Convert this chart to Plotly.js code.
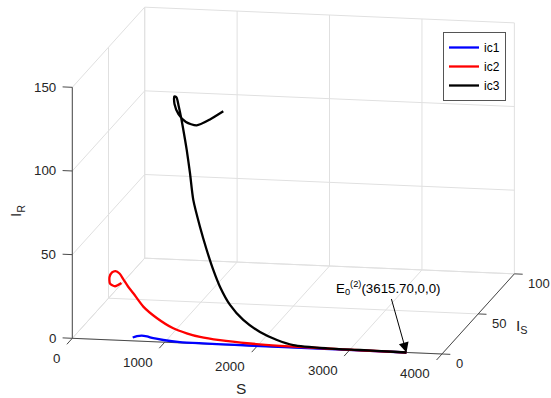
<!DOCTYPE html>
<html>
<head>
<meta charset="utf-8">
<script src="https://cdn.plot.ly/plotly-3.0.1.min.js"></script>
<style>html,body{margin:0;padding:0;background:#fff}#plot{width:551px;height:398px}</style>
</head>
<body>
<div id="plot"></div>
<script>
// ic1 trajectory: S, I_S, I_R
const ic1S  = [622, 664, 712, 772, 845, 964, 1157, 1410, 1700, 2100, 2600, 3100, 3615.7];
const ic1IS = [4, 4.6, 5, 4.6, 4, 2.6, 1.0, 0.6, 0.4, 0.3, 0.2, 0.1, 0];
const ic1IR = [0, 0.6, 0.84, 0.69, 0.1, 0, 0, 0, 0, 0, 0, 0, 0];

// ic2 trajectory
const ic2S  = [485, 415, 361, 356, 383, 420, 468, 511, 564, 621, 733, 882, 1065, 1214, 1362, 1582, 1911, 2239, 2748, 3111, 3470, 3615.7];
const ic2IS = [6, 6, 6, 6, 6, 6, 5.5, 5.5, 5, 5, 4.5, 4, 3.5, 3, 2.5, 2, 1.5, 1, 0.5, 0.2, 0.05, 0];
const ic2IR = [31.3, 29.2, 30.7, 34.6, 37.4, 38.3, 37.2, 33.7, 29.9, 26.0, 18.5, 12.3, 6.8, 4.4, 2.8, 1.6, 0.66, 0.3, 0.1, 0.05, 0.02, 0];

// ic3 trajectory
const ic3S  = [1571, 1427, 1283, 1167, 1090, 1047, 1045, 1069, 1096, 1121, 1147, 1191, 1230, 1270, 1346, 1423, 1498, 1574, 1687, 1834, 2019, 2207, 2386, 2750, 3112, 3473, 3615.7];
const ic3IS = [8, 8, 8, 8, 7.5, 7.5, 7.5, 7.5, 7, 7, 6.5, 6, 5.5, 5, 4.5, 4, 3.5, 3, 2.5, 2, 1.5, 1, 0.6, 0.3, 0.1, 0.03, 0];
const ic3IR = [135.5, 130.3, 126.4, 128.2, 133.0, 138.9, 143.4, 142.9, 138.1, 131.6, 125.3, 112.5, 99.1, 83.3, 67.7, 54.2, 42.7, 33.1, 22.7, 14.3, 7.8, 3.7, 1.3, 0.34, 0.25, 0.1, 0];

const seriesNames = ['ic1', 'ic2', 'ic3'];
const seriesColors = ['#0000ff', '#ff0000', '#000000'];

// axis ranges and ticks (S, I_S, I_R)
const sRange = [0, 4000], isRange = [0, 100], irRange = [0, 150];
const xTicks = [0, 1000, 2000, 3000, 4000];
const yTicks = [0, 50, 100];
const zTicks = [0, 50, 100, 150];

// equilibrium point E0(2)
const eqPoint = [3615.70, 0, 0];
const eqLabel = 'E<sub>0</sub><sup>(2)</sup>(3615.70,0,0)';

// ---- 3-D view (MATLAB-like orthographic view) ----
const view = {az: 11.08, el: 12.52};
const boxAspect = [1, 1, 0.6825];
const pxPerUnit = 376.7;
const originPx = [72.3, 338.3];
const W = 551, H = 398;
const d2r = Math.PI / 180;
const ca = Math.cos(view.az * d2r), sa = Math.sin(view.az * d2r);
const ce = Math.cos(view.el * d2r), se = Math.sin(view.el * d2r);
function proj(s, is, ir) {
  const xn = (s - sRange[0]) / (sRange[1] - sRange[0]) * boxAspect[0];
  const yn = (is - isRange[0]) / (isRange[1] - isRange[0]) * boxAspect[1];
  const zn = (ir - irRange[0]) / (irRange[1] - irRange[0]) * boxAspect[2];
  return [pxPerUnit * (ca * xn + sa * yn),
          pxPerUnit * (-sa * se * xn + ca * se * yn + ce * zn)];
}
function segTrace(segs, color, width) {
  const x = [], y = [];
  segs.forEach(([a, b]) => {
    const p = proj(...a), q = proj(...b);
    x.push(p[0], q[0], null); y.push(p[1], q[1], null);
  });
  return {type: 'scatter', mode: 'lines', x, y, showlegend: false, hoverinfo: 'skip',
          line: {color, width}};
}

const S1 = sRange[1], I1 = isRange[1], R1 = irRange[1];
// grid on back planes
const gridSegs = [];
xTicks.forEach(v => { gridSegs.push([[v, I1, 0], [v, I1, R1]]); gridSegs.push([[v, 0, 0], [v, I1, 0]]); });
zTicks.forEach(v => { gridSegs.push([[0, I1, v], [S1, I1, v]]); gridSegs.push([[0, 0, v], [0, I1, v]]); });
yTicks.forEach(v => { gridSegs.push([[0, v, 0], [0, v, R1]]); gridSegs.push([[0, v, 0], [S1, v, 0]]); });

// axis lines and tick marks
const axisSegs = [
  [[0, 0, 0], [S1, 0, 0]],
  [[S1, 0, 0], [S1, I1, 0]],
  [[0, 0, 0], [0, 0, R1]]
];
xTicks.forEach(v => axisSegs.push([[v, 0, 0], [v, -7.5, 0]]));
yTicks.forEach(v => axisSegs.push([[S1, v, 0], [S1 + 90, v, 0]]));
zTicks.forEach(v => axisSegs.push([[0, 0, v], [-105, 0, v]]));

const data = [segTrace(gridSegs, '#e0e0e0', 1), segTrace(axisSegs, '#4a4a4a', 1)];
const xs = [ic1S, ic2S, ic3S], ys = [ic1IS, ic2IS, ic3IS], zs = [ic1IR, ic2IR, ic3IR];
seriesNames.forEach((n, i) => {
  const pts = xs[i].map((s, k) => proj(s, ys[i][k], zs[i][k]));
  data.push({type: 'scatter', mode: 'lines', name: n,
    x: pts.map(p => p[0]), y: pts.map(p => p[1]),
    line: {color: seriesColors[i], width: 2.3, shape: 'spline', smoothing: 0.7},
    hoverinfo: 'skip'});
});

const tickColor = '#262626';
const fontFam = 'Liberation Sans, Arial, Helvetica, sans-serif';
const ann = [];
function addAnn(pt, text, opts) {
  const p = proj(...pt);
  ann.push(Object.assign({x: p[0], y: p[1], xref: 'x', yref: 'y', text, showarrow: false,
    font: {family: fontFam, size: 13.3, color: tickColor}}, opts));
}
xTicks.forEach(v => addAnn([v, 0, 0], String(v), {xanchor: 'right', yanchor: 'middle', xshift: -10, yshift: -20}));
yTicks.forEach(v => addAnn([S1, v, 0], String(v), {xanchor: 'left', yanchor: 'middle', xshift: 12, yshift: -10,
  font: {family: fontFam, size: 13, color: tickColor}}));
zTicks.forEach(v => addAnn([0, 0, v], String(v), {xanchor: 'right', yanchor: 'middle', xshift: -14, yshift: 0}));
// axis titles
const tf = {family: fontFam, size: 15.5, color: tickColor};
addAnn([S1 / 2, 0, 0], 'S', {xanchor: 'center', yanchor: 'middle', xshift: -16, yshift: -42, font: tf});
addAnn([S1, I1 / 2, 0], 'I<sub>S</sub>', {xanchor: 'center', yanchor: 'middle', xshift: 44, yshift: -13, font: tf});
addAnn([0, 0, R1 / 2], 'I<sub>R</sub>', {xanchor: 'center', yanchor: 'middle', textangle: -90, xshift: -55, yshift: 2, font: tf});
// equilibrium annotation with arrow
addAnn(eqPoint, eqLabel, {showarrow: true, ax: -18, ay: -64,
  arrowhead: 2, arrowsize: 2, arrowwidth: 1, arrowcolor: '#000', standoff: 0,
  font: {family: fontFam, size: 13.3, color: '#000'}});

const layout = {
  width: W, height: H,
  margin: {l: 0, r: 0, t: 0, b: 0},
  paper_bgcolor: '#fff', plot_bgcolor: '#fff',
  showlegend: true,
  hovermode: false,
  xaxis: {range: [-originPx[0], W - originPx[0]], visible: false, fixedrange: true},
  yaxis: {range: [originPx[1] - H, originPx[1]], visible: false, fixedrange: true},
  legend: {x: 506 / W, xanchor: 'right', y: 1 - 32 / H, yanchor: 'top',
    bordercolor: '#555', borderwidth: 1, bgcolor: '#fff',
    font: {family: fontFam, size: 12, color: '#000'}},
  annotations: ann
};

Plotly.newPlot('plot', data, layout, {displayModeBar: false, staticPlot: true});
</script>
</body>
</html>
